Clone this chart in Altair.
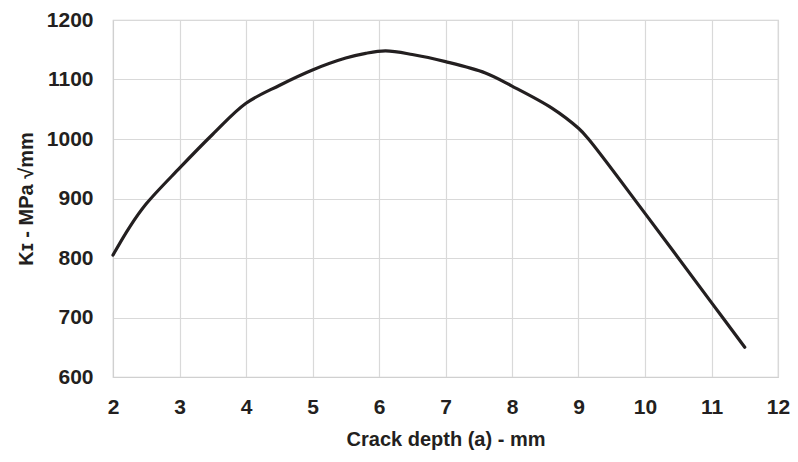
import altair as alt
import pandas as pd

depth = [2.0, 2.25, 2.5, 3.0, 3.5, 4.0, 4.5, 5.0, 5.5, 5.8, 6.1, 6.5, 7.0, 7.6, 8.0, 8.6, 9.0, 9.15, 10.0, 11.0, 11.5]
k_i = [805, 852, 891, 951, 1008, 1060, 1090, 1116, 1136, 1144, 1148, 1142, 1130, 1111, 1089, 1052, 1018, 1000, 875, 725, 650]

df = pd.DataFrame({"a": depth, "K": k_i})

font = "Liberation Sans"

chart = alt.Chart(df).mark_line(
    color="#231f20", strokeWidth=3.2, interpolate="catmull-rom", strokeCap="round"
).encode(
    x=alt.X("a:Q", scale=alt.Scale(domain=[2, 12], nice=False),
            axis=alt.Axis(title="Crack depth (a) - mm", values=list(range(2, 13)),
                          format="d", tickSize=0, labelPadding=19, titlePadding=12,
                          labelFlush=False)),
    y=alt.Y("K:Q", scale=alt.Scale(domain=[600, 1200], nice=False),
            axis=alt.Axis(title="Kɪ - MPa √mm", values=list(range(600, 1201, 100)),
                          format="d", tickSize=0, labelPadding=20, titlePadding=10,
                          labelFlush=False)),
).properties(
    width=665, height=357,
    padding={"left": 105, "top": 12, "right": 12, "bottom": 76},
    autosize=alt.AutoSizeParams(type="none"),
).configure_axis(
    labelFont=font, titleFont=font, labelFontSize=21, titleFontSize=20,
    labelFontWeight="bold", titleFontWeight="bold",
    labelColor="#231f20", titleColor="#231f20",
    gridColor="#d9d9d9", gridWidth=1.2, domainColor="#d0d0d0",
).configure_view(stroke="#d0d0d0", strokeWidth=1.2)

chart.save("out.html", embed_options={"renderer": "svg", "actions": False})
